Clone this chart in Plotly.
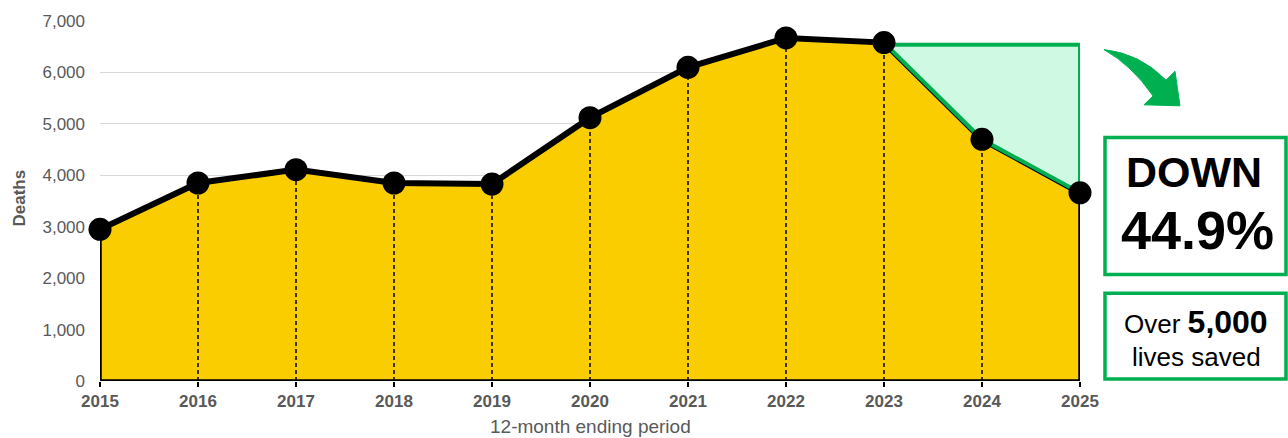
import plotly.graph_objects as go

# ---- data ----
years = [2015, 2016, 2017, 2018, 2019, 2020, 2021, 2022, 2023, 2024, 2025]
deaths = [2950, 3850, 4110, 3850, 3830, 5120, 6100, 6670, 6580, 4700, 3660]
baseline_level = 6540  # level the green "saved" region is drawn from
y_ticks = [0, 1000, 2000, 3000, 4000, 5000, 6000, 7000]
headline = ["DOWN", "44.9%"]
saved_lines = ["Over <b><span style='font-size:32px'>5,000</span></b>", "lives saved"]

YELLOW = "#F9CD00"
GREEN = "#00B050"
MINT = "#CFF9E2"
GREY = "#595959"
FONT = "Liberation Sans, Arial, sans-serif"

W, H = 1288, 438
L, R, T, B = 100, 208, 16, 57
PW, PH = W - L - R, H - T - B


def px(x):
    return (x - L) / PW


def py(y):
    return (H - B - y) / PH


fig = go.Figure()

# yellow area with black outline
fig.add_trace(go.Scatter(
    x=[years[0]] + years + [years[-1], years[0]],
    y=[0] + deaths + [0, 0],
    fill="toself", fillcolor=YELLOW, mode="lines",
    line=dict(color="black", width=3.5), hoverinfo="skip", cliponaxis=False,
))

# dashed drop lines
dx, dy = [], []
for x, v in zip(years[1:-1], deaths[1:-1]):
    dx += [x, x, None]
    dy += [0, v, None]
fig.add_trace(go.Scatter(x=dx, y=dy, mode="lines",
                         line=dict(color="black", width=1.5, dash="4px,3px"),
                         hoverinfo="skip"))

# main line
fig.add_trace(go.Scatter(x=years, y=deaths, mode="lines",
                         line=dict(color="black", width=6), cliponaxis=False,
                         hoverinfo="skip"))

# green saved region
i23 = years.index(2023)
gx = [years[i23], years[-1]] + years[i23:][::-1]
gy = [baseline_level, baseline_level] + deaths[i23:][::-1]
fig.add_trace(go.Scatter(x=gx, y=gy, fill="toself", fillcolor=MINT, mode="lines",
                         line=dict(color=GREEN, width=4), cliponaxis=False,
                         hoverinfo="skip"))

# markers
fig.add_trace(go.Scatter(x=years, y=deaths, mode="markers",
                         marker=dict(color="black", size=23), cliponaxis=False,
                         hoverinfo="skip"))

shapes = []
# boxes
for (x0, y0, x1, y1) in [(1105, 134, 1286, 273), (1105, 292, 1286, 379)]:
    shapes.append(dict(type="rect", xref="paper", yref="paper",
                       x0=px(x0), x1=px(x1), y0=py(y0), y1=py(y1),
                       line=dict(color=GREEN, width=3.5), fillcolor="white"))

# curved arrow
pts = [("M", 1104, 45), ("Q", 1140, 49), (None, 1166, 76), ("L", 1175, 67),
       ("L", 1180, 102), ("L", 1144, 101), ("L", 1153, 92), ("Q", 1132, 61),
       (None, 1104, 45)]
path = ""
for cmd, x, y in pts:
    if cmd:
        path += f" {cmd}"
    path += f" {px(x):.5f},{py(y):.5f}"
path += " Z"
shapes.append(dict(type="path", xref="paper", yref="paper", path=path,
                   fillcolor=GREEN, line=dict(color=GREEN, width=1)))

annotations = [
    dict(text="Deaths", xref="paper", yref="paper", x=px(20), y=py(196),
         textangle=-90, showarrow=False, xanchor="center", yanchor="middle",
         font=dict(family=FONT, size=17, color=GREY, weight="bold")),
    dict(text="12-month ending period", xref="paper", yref="paper", x=px(590),
         y=py(427), showarrow=False, xanchor="center", yanchor="middle",
         font=dict(family=FONT, size=19, color=GREY)),
    dict(text=f"<b>{headline[0]}</b>", xref="paper", yref="paper", x=px(1194),
         y=py(169), showarrow=False, xanchor="center", yanchor="middle",
         font=dict(family=FONT, size=43, color="black")),
    dict(text=f"<b>{headline[1]}</b>", xref="paper", yref="paper", x=px(1197),
         y=py(228), showarrow=False, xanchor="center", yanchor="middle",
         font=dict(family=FONT, size=54, color="black")),
    dict(text=saved_lines[0], xref="paper", yref="paper", x=px(1196),
         y=py(321), showarrow=False, xanchor="center", yanchor="middle",
         font=dict(family=FONT, size=26, color="black")),
    dict(text=saved_lines[1], xref="paper", yref="paper", x=px(1196),
         y=py(357), showarrow=False, xanchor="center", yanchor="middle",
         font=dict(family=FONT, size=26, color="black")),
]

fig.update_layout(
    width=W, height=H,
    margin=dict(l=L, r=R, t=T, b=B, pad=0),
    paper_bgcolor="white", plot_bgcolor="white",
    showlegend=False,
    shapes=shapes, annotations=annotations,
    xaxis=dict(range=[years[0], years[-1]], tickvals=years,
               ticktext=[f"<b>{y}</b>" for y in years],
               ticks="outside", ticklen=5, tickwidth=1.5, tickcolor="black",
               showgrid=False, zeroline=False, showline=False,
               tickfont=dict(family=FONT, size=17, color=GREY)),
    yaxis=dict(range=[0, 7000], tickvals=y_ticks, tickformat=",",
               showgrid=True, gridcolor="#D9D9D9", gridwidth=1,
               zeroline=False, showline=False, ticks="",
               ticklabelstandoff=14,
               tickfont=dict(family=FONT, size=17, color=GREY)),
)

fig.write_html(
    "out.html",
    config={"displayModeBar": False},
    post_script="document.body.style.margin='0';document.body.style.overflow='hidden';",
)
